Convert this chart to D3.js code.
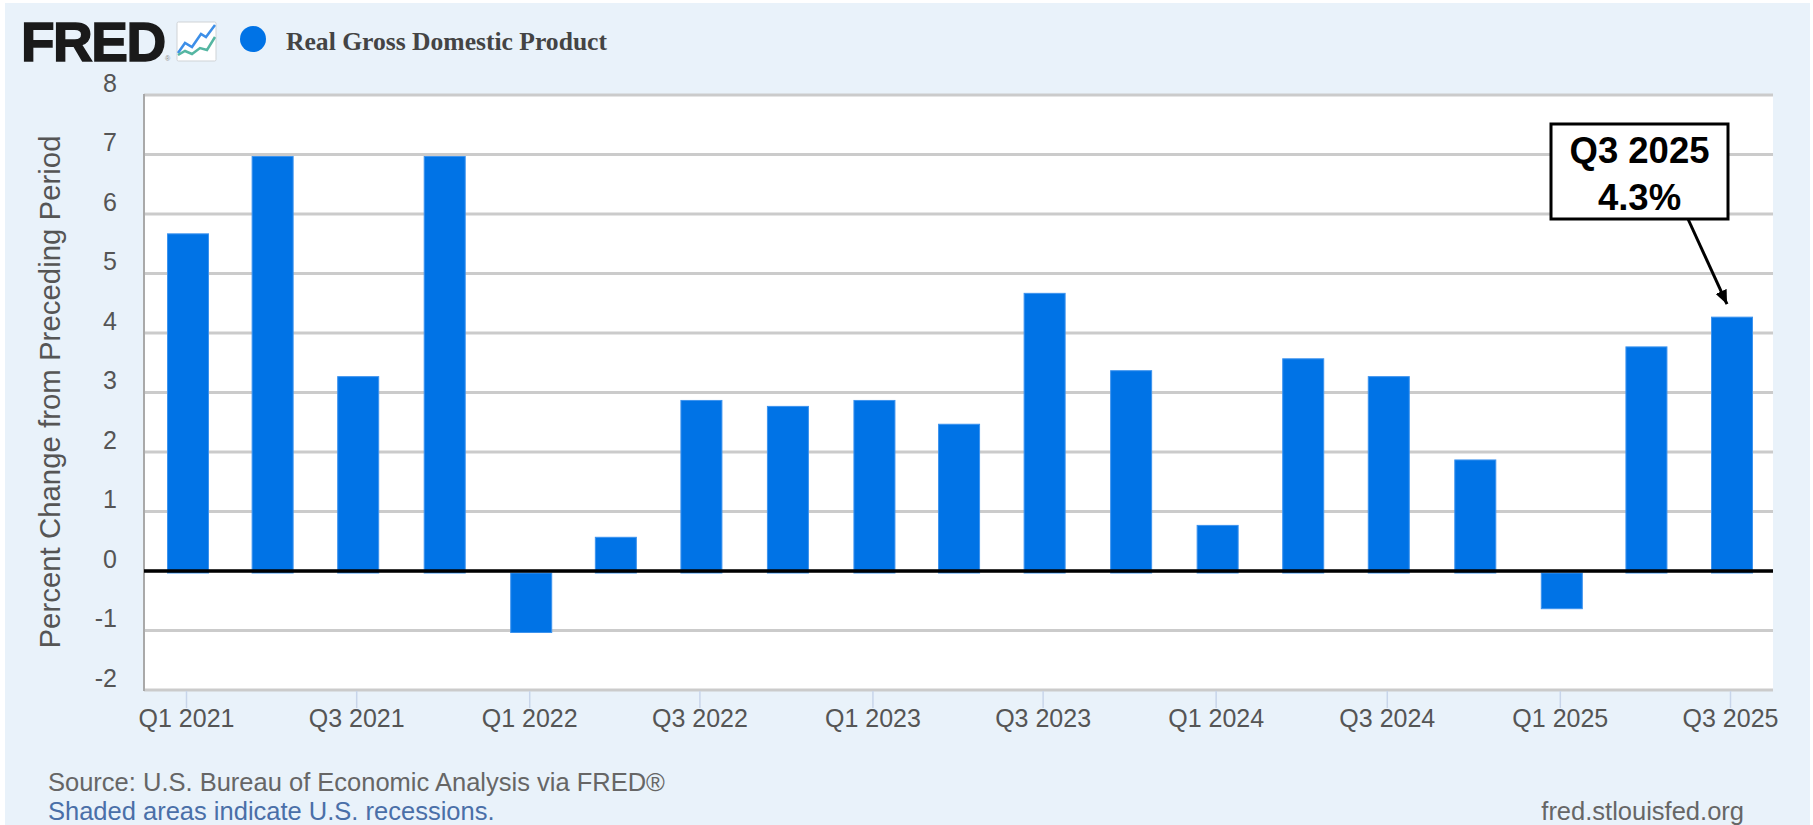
<!DOCTYPE html>
<html>
<head>
<meta charset="utf-8">
<title>Real Gross Domestic Product</title>
<script src="https://cdn.jsdelivr.net/npm/d3@7"></script>
<style>
	html, body { margin: 0; padding: 0; background: #fff; overflow: hidden; }
	text { font-family: "Liberation Sans", Arial, sans-serif; }
	.tick-label text { font-size: 25px; fill: #555; }
</style>
</head>
<body>
<div id="chart"></div>
<script>
// quarter start dates, FRED places the bars on a real time axis
var quarters = ["2021-01-01", "2021-04-01", "2021-07-01", "2021-10-01",
	"2022-01-01", "2022-04-01", "2022-07-01", "2022-10-01",
	"2023-01-01", "2023-04-01", "2023-07-01", "2023-10-01",
	"2024-01-01", "2024-04-01", "2024-07-01", "2024-10-01",
	"2025-01-01", "2025-04-01", "2025-07-01"];
var gdpChange = [5.7, 7.0, 3.3, 7.0, -1.0, 0.6, 2.9, 2.8, 2.9, 2.5, 4.7, 3.4, 0.8, 3.6, 3.3, 1.9, -0.6, 3.8, 4.3];
var yTicks = [-2, -1, 0, 1, 2, 3, 4, 5, 6, 7, 8];
var xTickDates = ["2021-01-01", "2021-07-01", "2022-01-01", "2022-07-01", "2023-01-01",
	"2023-07-01", "2024-01-01", "2024-07-01", "2025-01-01", "2025-07-01"];
var xTickLabels = ["Q1 2021", "Q3 2021", "Q1 2022", "Q3 2022", "Q1 2023",
	"Q3 2023", "Q1 2024", "Q3 2024", "Q1 2025", "Q3 2025"];
var seriesName = "Real Gross Domestic Product";
var yTitle = "Percent Change from Preceding Period";
var calloutLines = ["Q3 2025", "4.3%"];
var sourceText = "Source: U.S. Bureau of Economic Analysis via FRED\u00AE";
var recessionText = "Shaded areas indicate U.S. recessions.";
var siteText = "fred.stlouisfed.org";

const W = 1813, H = 825;
const plot = { left: 144, right: 1773, top: 95, bottom: 690 };
const barColor = "#0073e6";

const parseDay = d3.utcParse("%Y-%m-%d");

const x = d3.scaleUtc()
	.domain([parseDay(quarters[0]), parseDay(quarters[quarters.length - 1])])
	.range([186, 1730]);
const y = d3.scaleLinear().domain([-2, 8]).range([plot.bottom, plot.top]);

const svg = d3.select("#chart").append("svg")
	.attr("width", W)
	.attr("height", H)
	.style("display", "block");

// panel background
svg.append("rect")
	.attr("x", 5).attr("y", 3)
	.attr("width", 1805).attr("height", H - 3)
	.attr("fill", "#e9f2fa");

svg.append("rect")
	.attr("x", plot.left).attr("y", plot.top)
	.attr("width", plot.right - plot.left).attr("height", plot.bottom - plot.top)
	.attr("fill", "#fff");

// grid lines
svg.append("g").selectAll("line")
	.data(yTicks)
	.enter().append("line")
	.attr("x1", plot.left)
	.attr("x2", plot.right)
	.attr("y1", d => y(d))
	.attr("y2", d => y(d))
	.attr("stroke", "#cbcbcb")
	.attr("stroke-width", 3);

// left edge of the plot
svg.append("line")
	.attr("x1", plot.left).attr("x2", plot.left)
	.attr("y1", plot.top - 1).attr("y2", plot.bottom + 1)
	.attr("stroke", "#a9a9a9")
	.attr("stroke-width", 2);

// bars sit 2px right and below the axes in the source picture
const barW = 41;
svg.append("g")
	.attr("transform", "translate(2,2)")
	.selectAll("rect")
	.data(gdpChange)
	.enter().append("rect")
	.attr("x", (d, i) => x(parseDay(quarters[i])) - barW / 2)
	.attr("width", barW)
	.attr("y", d => y(Math.max(d, 0)))
	.attr("height", d => Math.abs(y(d) - y(0)))
	.attr("fill", barColor)
	.attr("stroke", "#3d93ee")
	.attr("stroke-width", 1);

// zero line
svg.append("line")
	.attr("x1", plot.left).attr("x2", plot.right)
	.attr("y1", y(0)).attr("y2", y(0))
	.attr("stroke", "#000")
	.attr("stroke-width", 3.5);

// x axis
const xAxis = svg.append("g")
	.attr("class", "tick-label")
	.attr("transform", "translate(0," + (plot.bottom + 1) + ")")
	.call(d3.axisBottom(x)
		.tickValues(xTickDates.map(parseDay))
		.tickFormat((d, i) => xTickLabels[i])
		.tickSize(17)
		.tickPadding(1));
xAxis.select(".domain").remove();
xAxis.selectAll("line").attr("stroke", "#c8d5ea").attr("stroke-width", 1.5);
xAxis.selectAll("text").attr("dy", "0.72em").attr("fill", null);

// y axis, labels float above their grid lines
const yAxis = svg.append("g")
	.attr("class", "tick-label")
	.attr("transform", "translate(126,0)")
	.call(d3.axisLeft(y)
		.tickValues(yTicks)
		.tickFormat(d => String(d))
		.tickSize(0)
		.tickPadding(9));
yAxis.select(".domain").remove();
yAxis.selectAll("text").attr("dy", "-0.16em").attr("fill", null);

svg.append("text")
	.attr("transform", "translate(60,392) rotate(-90)")
	.attr("text-anchor", "middle")
	.attr("font-size", 29.4)
	.attr("fill", "#555")
	.text(yTitle);

// header: logo, icon, legend
svg.append("text")
	.attr("x", 21).attr("y", 61)
	.attr("font-size", 55)
	.attr("font-weight", 700)
	.attr("letter-spacing", -1.5)
	.attr("fill", "#1a1a1a")
	.attr("stroke", "#1a1a1a")
	.attr("stroke-width", 1.5)
	.text("FRED");
svg.append("text")
	.attr("x", 165).attr("y", 61)
	.attr("font-size", 7)
	.attr("fill", "#888")
	.text("\u00AE");

const icon = svg.append("g").attr("transform", "translate(177,22)");
icon.append("rect")
	.attr("width", 39).attr("height", 39).attr("rx", 1.5)
	.attr("fill", "#fff")
	.attr("stroke", "#cfd3d6");
const iconLine = d3.line();
icon.append("path")
	.attr("d", iconLine([[1, 31], [8, 21], [15, 25], [24, 12], [29, 15], [38, 3]]))
	.attr("fill", "none").attr("stroke", "#3d8fe8").attr("stroke-width", 2.5);
icon.append("path")
	.attr("d", iconLine([[1, 33], [8, 29], [15, 32], [23, 26], [30, 28], [38, 15]]))
	.attr("fill", "none").attr("stroke", "#55b6a2").attr("stroke-width", 2.5);

svg.append("circle")
	.attr("cx", 253).attr("cy", 39).attr("r", 13)
	.attr("fill", barColor);

svg.append("text")
	.attr("x", 286).attr("y", 50)
	.attr("font-size", 25)
	.attr("font-weight", 700)
	.attr("textLength", 321)
	.attr("lengthAdjust", "spacingAndGlyphs")
	.style("font-family", "'Liberation Serif', serif")
	.attr("fill", "#444")
	.text(seriesName);

// callout for the last quarter
const lastX = x(parseDay(quarters[quarters.length - 1])) + 2;
const lastY = y(gdpChange[gdpChange.length - 1]) + 2;
const box = { left: lastX - 181, right: lastX - 4, top: 124, bottom: 219 };

svg.append("defs").append("marker")
	.attr("id", "arrow-head")
	.attr("markerUnits", "userSpaceOnUse")
	.attr("viewBox", "0 0 14 12")
	.attr("refX", 14).attr("refY", 6)
	.attr("markerWidth", 14).attr("markerHeight", 12)
	.attr("orient", "auto")
	.append("path")
	.attr("d", "M0,0L14,6L0,12Z")
	.attr("fill", "#000");

svg.append("line")
	.attr("x1", box.left + 137).attr("y1", box.bottom)
	.attr("x2", lastX - 5).attr("y2", lastY - 13)
	.attr("stroke", "#000")
	.attr("stroke-width", 3)
	.attr("marker-end", "url(#arrow-head)");

svg.append("rect")
	.attr("x", box.left).attr("y", box.top)
	.attr("width", box.right - box.left).attr("height", box.bottom - box.top)
	.attr("fill", "#fff")
	.attr("stroke", "#000")
	.attr("stroke-width", 3);

svg.append("g").selectAll("text")
	.data(calloutLines)
	.enter().append("text")
	.attr("x", (box.left + box.right) / 2)
	.attr("y", (d, i) => 163 + i * 47)
	.attr("text-anchor", "middle")
	.attr("font-size", 36.5)
	.attr("font-weight", 700)
	.attr("fill", "#000")
	.text(d => d);

// footer
svg.append("text")
	.attr("x", 48).attr("y", 791)
	.attr("font-size", 25.5)
	.attr("fill", "#666")
	.text(sourceText);
svg.append("text")
	.attr("x", 48).attr("y", 820)
	.attr("font-size", 25.5)
	.attr("fill", "#4a6fa8")
	.text(recessionText);
svg.append("text")
	.attr("x", 1744).attr("y", 820)
	.attr("text-anchor", "end")
	.attr("font-size", 25.5)
	.attr("fill", "#666")
	.text(siteText);
</script>
</body>
</html>
